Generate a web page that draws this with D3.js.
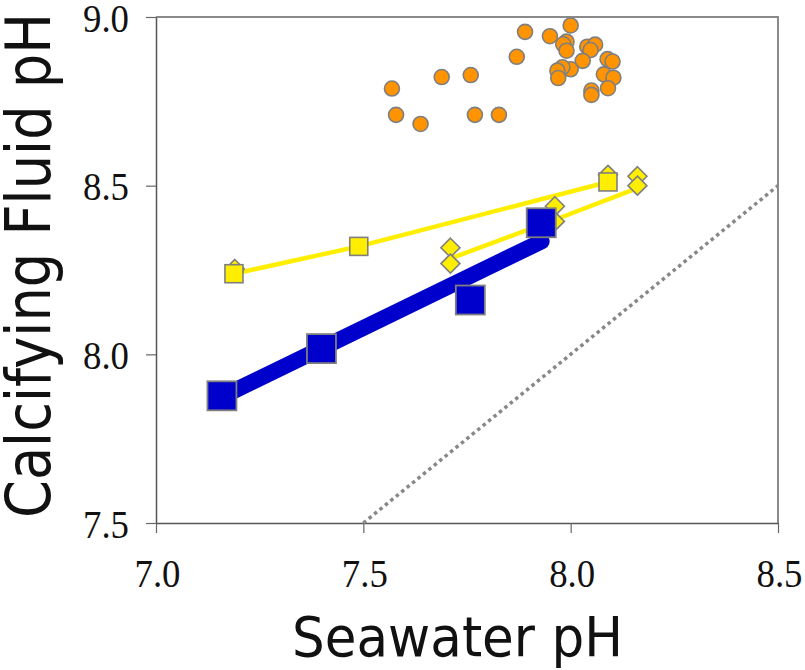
<!DOCTYPE html>
<html><head><meta charset="utf-8">
<script src="https://cdn.jsdelivr.net/npm/d3@7"></script>
<style>body{margin:0;background:#fff}</style>
</head><body><svg id="c" width="805" height="670"></svg>
<script>
// ---- data ----
const xTicks = [7.0, 7.5, 8.0, 8.5];
const yTicks = [7.5, 8.0, 8.5, 9.0];
const fieldX = [7.569,7.579,7.638,7.689,7.759,7.769,7.827,7.890,7.870,8.000,7.950,7.990,7.982,7.990,8.040,8.059,8.048,8.029,8.000,7.980,7.968,7.970,8.089,8.101,8.080,8.103,8.090,8.050,8.050];
const fieldY = [8.788,8.710,8.683,8.822,8.828,8.710,8.710,8.956,8.882,8.975,8.943,8.927,8.919,8.900,8.912,8.918,8.902,8.870,8.845,8.851,8.841,8.819,8.875,8.868,8.830,8.820,8.789,8.782,8.769];
const yellowSqX = [7.188, 7.489, 8.090];
const yellowSqY = [8.239, 8.320, 8.511];
const diamondX = [7.190, 8.090, 7.710, 7.710, 7.962, 7.962, 8.161, 8.161];
const diamondY = [8.253, 8.532, 8.316, 8.269, 8.439, 8.394, 8.528, 8.500];
const diamondLineX = [7.710, 7.962, 8.161];
const diamondLineY = [8.284, 8.399, 8.493];
const blueX = [7.159, 7.399, 7.758, 7.929];
const blueY = [7.877, 8.017, 8.161, 8.390];
const blueTrendX = [7.160, 7.930];
const blueTrendY = [7.875, 8.335];
const oneToOneX = [7.5, 8.5];
const oneToOneY = [7.5, 8.5];

// ---- chart ----
const svg = d3.select("#c");
const x = d3.scaleLinear().domain([7.0, 8.5]).range([156, 778]);
const y = d3.scaleLinear().domain([7.5, 9.0]).range([523, 17]);
const zip = (a, b) => a.map((v, i) => [v, b[i]]);
const line = d3.line().x(d => x(d[0])).y(d => y(d[1]));

// frame top/right
svg.append("path")
  .attr("d", `M${x(7.0)},${y(9.0)}H${x(8.5)}V${y(7.5)}`)
  .attr("fill", "none").attr("stroke", "#8a8a8a").attr("stroke-width", 2);

// axes
const gx = svg.append("g").attr("transform", `translate(0,${y(7.5)})`)
  .call(d3.axisBottom(x).tickValues(xTicks).tickSize(10).tickSizeOuter(0).tickFormat(d3.format(".1f")));
const gy = svg.append("g").attr("transform", `translate(${x(7.0)},0)`)
  .call(d3.axisLeft(y).tickValues(yTicks).tickSize(10).tickSizeOuter(0).tickFormat(d3.format(".1f")));
[gx, gy].forEach(g => {
  g.select(".domain").attr("stroke", "#555").attr("stroke-width", 1.5);
  g.selectAll(".tick line").attr("stroke", "#666").attr("stroke-width", 1.2);
  g.selectAll(".tick text").attr("fill", "#111")
    .style("font-family", "'Liberation Serif', serif").style("font-size", "41px")
    .attr("textLength", 46).attr("lengthAdjust", "spacingAndGlyphs");
});
gx.selectAll(".tick text").attr("dy", null).attr("y", 64).attr("x", 1);
gy.selectAll(".tick text").attr("dy", null).attr("x", -27).attr("y", 14);

// 1:1 dotted line
svg.append("path").datum(zip(oneToOneX, oneToOneY)).attr("d", line)
  .attr("fill", "none").attr("stroke", "#888").attr("stroke-width", 3.5)
  .attr("stroke-dasharray", "3.5,3.5");

// orange circles
svg.append("g").selectAll("circle").data(zip(fieldX, fieldY)).join("circle")
  .attr("cx", d => x(d[0])).attr("cy", d => y(d[1])).attr("r", 7.5)
  .attr("fill", "#ff9400").attr("stroke", "#7f7f7f").attr("stroke-width", 1.6);

// yellow lines
svg.append("path").datum(zip(yellowSqX, yellowSqY)).attr("d", line)
  .attr("fill", "none").attr("stroke", "#ffee00").attr("stroke-width", 4.5);
svg.append("path").datum(zip(diamondLineX, diamondLineY)).attr("d", line)
  .attr("fill", "none").attr("stroke", "#ffee00").attr("stroke-width", 4.5);

// diamonds
svg.append("g").selectAll("path").data(zip(diamondX, diamondY)).join("path")
  .attr("transform", d => `translate(${x(d[0])},${y(d[1])})`)
  .attr("d", "M0,-9.5L9.5,0L0,9.5L-9.5,0Z")
  .attr("fill", "#ffee00").attr("stroke", "#7f7f7f").attr("stroke-width", 1.6);

// yellow squares
svg.append("g").selectAll("rect").data(zip(yellowSqX, yellowSqY)).join("rect")
  .attr("x", d => x(d[0]) - 9).attr("y", d => y(d[1]) - 9).attr("width", 18).attr("height", 18)
  .attr("fill", "#ffee00").attr("stroke", "#7f7f7f").attr("stroke-width", 1.6);

// blue trend
svg.append("path").datum(zip(blueTrendX, blueTrendY)).attr("d", line)
  .attr("fill", "none").attr("stroke", "#0000cc").attr("stroke-width", 16).attr("stroke-linecap", "round");

// blue squares
svg.append("g").selectAll("rect").data(zip(blueX, blueY)).join("rect")
  .attr("x", d => x(d[0]) - 14.5).attr("y", d => y(d[1]) - 14.5).attr("width", 29).attr("height", 29)
  .attr("fill", "#0000cc").attr("stroke", "#7f7f7f").attr("stroke-width", 1.8);

// titles
svg.append("text").attr("x", 457.5).attr("y", 656).attr("text-anchor", "middle")
  .style("font-family", "'DejaVu Sans', sans-serif").style("font-size", "55px").attr("fill", "#111")
  .attr("textLength", 331).attr("lengthAdjust", "spacingAndGlyphs")
  .text("Seawater pH");
svg.append("text").attr("transform", "translate(50,265.5) rotate(-90)").attr("text-anchor", "middle")
  .style("font-family", "'DejaVu Sans', sans-serif").style("font-size", "62px").attr("fill", "#111")
  .attr("textLength", 505).attr("lengthAdjust", "spacingAndGlyphs")
  .text("Calcifying Fluid pH");
</script>
</body></html>
